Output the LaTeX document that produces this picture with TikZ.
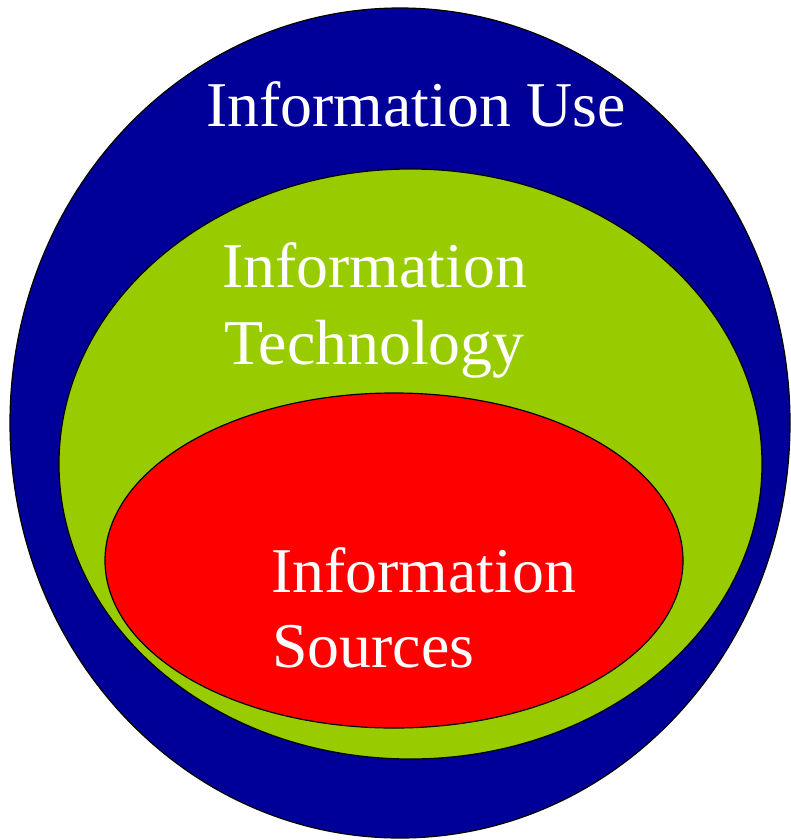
\documentclass[tikz,border=0pt]{standalone}
\usepackage{fontspec}
\setmainfont{Liberation Serif}
\definecolor{useblue}{HTML}{000099}
\definecolor{techgreen}{HTML}{99CC00}
\definecolor{srcred}{HTML}{FF0000}
\tikzset{
  ring/.style={draw=black, line width=1.2pt},
  lbl/.style={text=white, anchor=base west, inner sep=0pt, font=\fontsize{63.8}{76}\selectfont}
}
\begin{document}
\begin{tikzpicture}[x=1pt,y=-1pt]
\useasboundingbox (0,0) rectangle (790,840);
\fill[white] (0,0) rectangle (790,840);
\draw[ring, fill=useblue] (400,423) ellipse [x radius=390, y radius=415];
\draw[ring, fill=techgreen] (410.5,464) ellipse [x radius=351.5, y radius=295];
\draw[ring, fill=srcred] (394,560.5) ellipse [x radius=289, y radius=167.5];
\node[lbl] (use) at (206,127) {Information Use};
\node[lbl] (tech1) at (222,287) {Information};
\node[lbl] (tech2) at (224,364) {Technology};
\node[lbl] (src1) at (271,592) {Information};
\node[lbl] (src2) at (272,667) {Sources};
\end{tikzpicture}
\end{document}
